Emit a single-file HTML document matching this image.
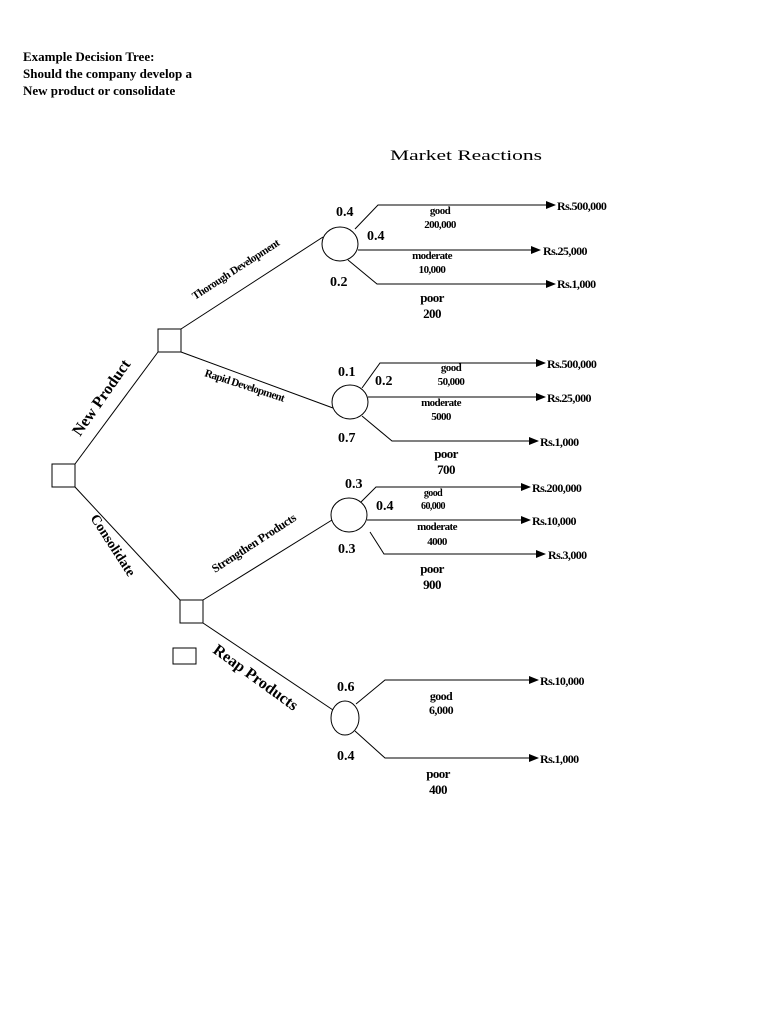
<!DOCTYPE html>
<html><head><meta charset="utf-8"><style>
html,body{margin:0;padding:0;background:#fff;width:768px;height:1024px;overflow:hidden}
svg{display:block}
text{font-family:"Liberation Serif",serif;fill:#000}
.b{font-weight:bold}
</style></head><body>
<svg width="768" height="1024" viewBox="0 0 768 1024" xmlns="http://www.w3.org/2000/svg">
<defs><marker id="a" markerWidth="10" markerHeight="8" refX="9" refY="4" orient="auto" markerUnits="userSpaceOnUse"><path d="M0,0 L10,4 L0,8 z" fill="#000"/></marker></defs>
<g class="b" font-size="13">
<text x="23" y="61" class="b">Example Decision Tree:</text>
<text x="23" y="78" class="b">Should the company develop a</text>
<text x="23" y="95" class="b">New product or consolidate</text>
</g>
<text x="390" y="160" font-size="15" textLength="152" lengthAdjust="spacingAndGlyphs">Market Reactions</text>
<g fill="none" stroke="#000" stroke-width="1">
<rect x="52" y="464" width="23" height="23"/>
<rect x="158" y="329" width="23" height="23"/>
<rect x="180" y="600" width="23" height="23"/>
<rect x="173" y="648" width="23" height="16"/>
<ellipse cx="340" cy="244" rx="18" ry="17"/>
<ellipse cx="350" cy="402" rx="18" ry="17"/>
<ellipse cx="349" cy="515" rx="18" ry="17"/>
<ellipse cx="345" cy="718" rx="14" ry="17"/>
<line x1="75" y1="464" x2="158" y2="352"/>
<line x1="181" y1="329" x2="323" y2="237"/>
<line x1="181" y1="352" x2="333" y2="408"/>
<line x1="75" y1="487" x2="180" y2="600"/>
<line x1="203" y1="600" x2="332" y2="520"/>
<line x1="203" y1="623" x2="333" y2="710"/>
<polyline points="355,229 378,205 555,205" marker-end="url(#a)"/>
<line x1="358" y1="250" x2="540" y2="250" marker-end="url(#a)"/>
<polyline points="348,260 377,284 555,284" marker-end="url(#a)"/>
<polyline points="362,388 380,363 545,363" marker-end="url(#a)"/>
<line x1="368" y1="397" x2="545" y2="397" marker-end="url(#a)"/>
<polyline points="362,416 392,441 538,441" marker-end="url(#a)"/>
<polyline points="361,502 376,487 530,487" marker-end="url(#a)"/>
<line x1="367" y1="520" x2="530" y2="520" marker-end="url(#a)"/>
<polyline points="370,532 384,554 545,554" marker-end="url(#a)"/>
<polyline points="356,704 385,680 538,680" marker-end="url(#a)"/>
<polyline points="355,731 385,758 538,758" marker-end="url(#a)"/>
</g>
<g class="b" font-size="14">
<text x="336" y="216">0.4</text><text x="367" y="240">0.4</text><text x="330" y="286">0.2</text>
<text x="338" y="376">0.1</text><text x="375" y="385">0.2</text><text x="338" y="442">0.7</text>
<text x="345" y="488">0.3</text><text x="376" y="510">0.4</text><text x="338" y="553">0.3</text>
<text x="337" y="691">0.6</text><text x="337" y="760">0.4</text>
</g>
<g class="b" font-size="12" letter-spacing="-0.6">
<text x="557" y="210">Rs.500,000</text><text x="543" y="255">Rs.25,000</text><text x="557" y="288">Rs.1,000</text>
<text x="547" y="368">Rs.500,000</text><text x="547" y="402">Rs.25,000</text><text x="540" y="446">Rs.1,000</text>
<text x="532" y="492">Rs.200,000</text><text x="532" y="525">Rs.10,000</text><text x="548" y="559">Rs.3,000</text>
<text x="540" y="685">Rs.10,000</text><text x="540" y="763">Rs.1,000</text>
</g>
<g class="b" font-size="11" letter-spacing="-0.6" text-anchor="middle">
<text x="440" y="214">good</text><text x="440" y="228">200,000</text>
<text x="432" y="259">moderate</text><text x="432" y="273">10,000</text>
<text x="432" y="302" font-size="13">poor</text><text x="432" y="318" font-size="13">200</text>
<text x="451" y="371">good</text><text x="451" y="385">50,000</text>
<text x="441" y="406">moderate</text><text x="441" y="420">5000</text>
<text x="446" y="458" font-size="13">poor</text><text x="446" y="474" font-size="13">700</text>
<text x="433" y="496" font-size="10">good</text><text x="433" y="509" font-size="10">60,000</text>
<text x="437" y="530">moderate</text><text x="437" y="545">4000</text>
<text x="432" y="573" font-size="13">poor</text><text x="432" y="589" font-size="13">900</text>
<text x="441" y="700" font-size="12">good</text><text x="441" y="714" font-size="12">6,000</text>
<text x="438" y="778" font-size="13">poor</text><text x="438" y="794" font-size="13">400</text>
</g>
<g class="b">
<text font-size="11" letter-spacing="-0.5" transform="translate(195,300) rotate(-33)">Thorough Development</text>
<text font-size="11" letter-spacing="-0.6" transform="translate(204,376) rotate(18)">Rapid Development</text>
<text font-size="16" transform="translate(80,437) rotate(-55)">New Product</text>
<text font-size="14" transform="translate(90,518) rotate(57)">Consolidate</text>
<text font-size="12" letter-spacing="-0.4" transform="translate(215,573) rotate(-33)">Strengthen Products</text>
<text font-size="16" transform="translate(212,652) rotate(36)">Reap Products</text>
</g>
</svg>
</body></html>
